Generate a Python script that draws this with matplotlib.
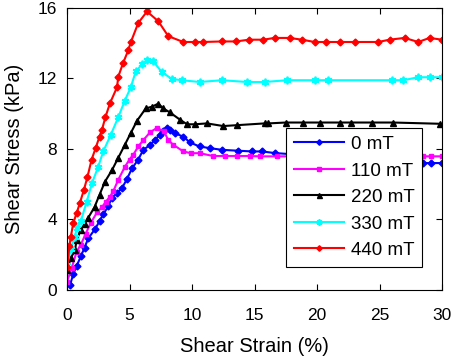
import matplotlib.pyplot as plt

plt.rcParams['font.family'] = ['Liberation Sans', 'DejaVu Sans']

# 0 mT
x0 = [0.24, 0.5, 0.77, 1.1, 1.4, 1.7, 2.24, 2.6, 2.9, 3.3, 3.57, 4.0, 4.4, 4.8, 5.2, 5.7, 6.1, 6.6,
      7.04, 7.4, 7.7, 8.0, 8.24, 8.6, 9.3, 9.84, 10.6, 11.4, 12.4, 13.7, 14.8, 15.6, 16.6, 18, 20,
      22, 24, 26, 28.5, 29.1, 30]
y0 = [0.28, 0.9, 1.36, 1.9, 2.4, 2.93, 3.45, 3.9, 4.3, 4.75, 5.2, 5.5, 5.78, 6.3, 6.9, 7.4, 7.95, 8.2,
      8.5, 8.8, 9.0, 9.2, 9.1, 8.9, 8.7, 8.37, 8.14, 8.05, 7.95, 7.9, 7.86, 7.86, 7.77, 7.7, 7.6,
      7.5, 7.4, 7.3, 7.2, 7.2, 7.2]
# 110 mT
x1 = [0.0, 0.37, 0.77, 1.1, 1.5, 1.9, 2.4, 2.8, 3.1, 3.44, 3.7, 4.1, 4.64, 5.0, 5.3, 5.7, 6.1, 6.64,
      7.2, 7.76, 8.1, 8.5, 9.3, 9.9, 10.6, 11.7, 12.6, 13.6, 14.6, 15.4, 16.8, 20, 24, 28.5, 29.1, 30]
y1 = [0.47, 1.23, 2.18, 2.56, 3.2, 3.8, 4.4, 4.7, 5.0, 5.3, 5.6, 6.25, 7.0, 7.4, 7.67, 8.14, 8.5, 8.94,
      9.2, 9.0, 8.5, 8.24, 7.86, 7.76, 7.76, 7.6, 7.6, 7.6, 7.6, 7.58, 7.58, 7.58, 7.58, 7.58, 7.58, 7.58]
# 220 mT
x2 = [0.0, 0.3, 0.64, 0.77, 1.1, 1.4, 1.7, 2.2, 2.6, 3.04, 3.6, 4.1, 4.6, 5.1, 5.6, 6.3, 6.8, 7.3,
      7.7, 8.24, 9.04, 9.6, 10.2, 11.2, 12.5, 13.6, 15.8, 16.1, 17.5, 18.9, 20.2, 21.8, 22.7, 24.4,
      26.1, 29.8]
y2 = [1.14, 1.8, 2.27, 2.84, 3.4, 3.75, 4.1, 4.7, 5.4, 6.15, 6.8, 7.5, 8.2, 8.9, 9.6, 10.3, 10.4, 10.57,
      10.3, 10.07, 9.66, 9.4, 9.4, 9.45, 9.3, 9.35, 9.45, 9.45, 9.5, 9.5, 9.5, 9.5, 9.5, 9.5,
      9.5, 9.43]
# 330 mT
x3 = [0.0, 0.3, 0.6, 0.8, 1.1, 1.57, 2.0, 2.5, 2.9, 3.5, 4.1, 4.6, 5.1, 5.5, 6.0, 6.4, 6.9, 7.6, 8.4,
      9.2, 10.6, 12.4, 14.4, 15.8, 17.6, 19.8, 20.9, 26.0, 26.9, 28.1, 29.0, 30]
y3 = [1.4, 2.3, 3.0, 3.5, 3.9, 5.0, 6.06, 7.0, 7.86, 8.8, 9.8, 10.7, 11.5, 12.4, 12.8, 13.07, 12.97,
      12.35, 11.97, 11.9, 11.8, 11.9, 11.8, 11.8, 11.9, 11.9, 11.9, 11.9, 11.9, 12.07, 12.07, 12.07]
# 440 mT
x4 = [0.03, 0.19, 0.3, 0.5, 0.77, 1.04, 1.36, 1.63, 1.97, 2.3, 2.6, 2.8, 3.07, 3.44, 4.0, 4.1, 4.5,
      4.9, 5.1, 5.7, 6.4, 7.3, 8.1, 9.3, 10.2, 10.9, 12.4, 13.5, 14.56, 15.7, 16.6, 17.8, 18.8, 19.8,
      20.7, 21.8, 23.0, 24.9, 25.8, 27.0, 28.1, 29.0, 30]
y4 = [1.3, 2.5, 3.0, 3.8, 4.36, 4.96, 5.7, 6.4, 7.4, 8.07, 8.7, 9.1, 9.8, 10.6, 11.5, 12.1, 12.9,
      13.6, 14.05, 15.15, 15.8, 15.25, 14.4, 14.07, 14.07, 14.07, 14.1, 14.1, 14.2, 14.2, 14.3, 14.3,
      14.2, 14.07, 14.07, 14.07, 14.07, 14.07, 14.2, 14.3, 14.07, 14.3, 14.2]

labels = ['0 mT', '110 mT', '220 mT', '330 mT', '440 mT']

fig = plt.figure(figsize=(4.54, 3.62), dpi=100)
ax = fig.add_axes([0.1476, 0.199, 0.826, 0.779])

ax.plot(x0, y0, color='#0000ff', marker='D', ms=3.5, lw=1.5, label=labels[0])
ax.plot(x1, y1, color='#ff00ff', marker='s', ms=3.5, lw=1.5, label=labels[1])
ax.plot(x2, y2, color='black', marker='^', ms=4.5, lw=1.5, label=labels[2])
ax.plot(x3, y3, color='#00ffff', marker=(6, 2, 0), ms=5.5, mew=1.3, lw=1.5, label=labels[3])
ax.plot(x4, y4, color='#ff0000', marker='D', ms=3.5, lw=1.5, label=labels[4])

ax.set_xlim(0, 30)
ax.set_ylim(0, 16)
ax.set_xticks([0, 5, 10, 15, 20, 25, 30])
ax.set_yticks([0, 4, 8, 12, 16])
ax.tick_params(direction='in', top=True, right=True, length=4, labelsize=12.5)
ax.tick_params(axis='x', pad=13)
ax.tick_params(axis='y', pad=7)
for s in ax.spines.values():
    s.set_linewidth(0.8)
ax.set_xlabel('Shear Strain (%)', fontsize=14.5, labelpad=10)
ax.set_ylabel('Shear Stress (kPa)', fontsize=14.5, labelpad=10)

leg = ax.legend(loc='lower right', bbox_to_anchor=(0.946, 0.083), borderaxespad=0, fontsize=13.5,
                fancybox=False, edgecolor='black', framealpha=1, numpoints=1, markerscale=0.8,
                handlelength=2.67, handletextpad=0.36, labelspacing=0.5, borderpad=0.4)
leg.get_frame().set_linewidth(0.8)

fig.savefig('out.png', dpi=100)
